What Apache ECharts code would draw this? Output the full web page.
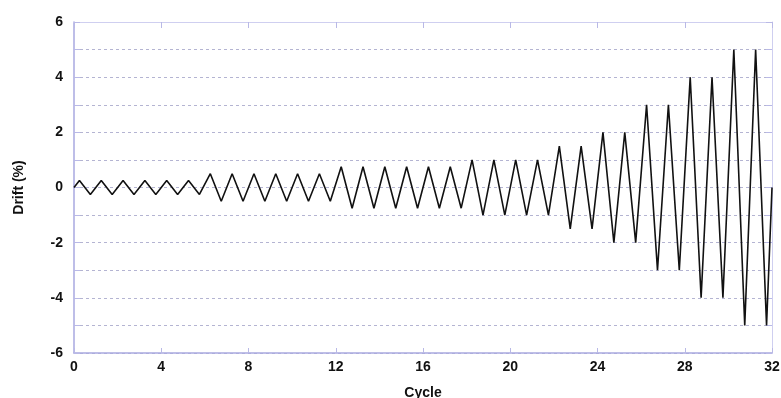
<!DOCTYPE html>
<html>
<head>
<meta charset="utf-8">
<script src="https://cdn.jsdelivr.net/npm/echarts@6/dist/echarts.min.js"></script>
<style>
  html, body { margin: 0; padding: 0; background: #fff; }
  #chart { width: 781px; height: 398px; }
</style>
</head>
<body>
<div id="chart"></div>
<script>
// loading protocol: cycle position of each peak / trough
var cycleX = [0,
  0.25, 0.75, 1.25, 1.75, 2.25, 2.75, 3.25, 3.75, 4.25, 4.75, 5.25, 5.75,
  6.25, 6.75, 7.25, 7.75, 8.25, 8.75, 9.25, 9.75, 10.25, 10.75, 11.25, 11.75,
  12.25, 12.75, 13.25, 13.75, 14.25, 14.75, 15.25, 15.75, 16.25, 16.75, 17.25, 17.75,
  18.25, 18.75, 19.25, 19.75, 20.25, 20.75, 21.25, 21.75,
  22.25, 22.75, 23.25, 23.75,
  24.25, 24.75, 25.25, 25.75,
  26.25, 26.75, 27.25, 27.75,
  28.25, 28.75, 29.25, 29.75,
  30.25, 30.75, 31.25, 31.75,
  32];
// drift (%) at those points
var drift = [0,
  0.25, -0.25, 0.25, -0.25, 0.25, -0.25, 0.25, -0.25, 0.25, -0.25, 0.25, -0.25,
  0.5, -0.5, 0.5, -0.5, 0.5, -0.5, 0.5, -0.5, 0.5, -0.5, 0.5, -0.5,
  0.75, -0.75, 0.75, -0.75, 0.75, -0.75, 0.75, -0.75, 0.75, -0.75, 0.75, -0.75,
  1, -1, 1, -1, 1, -1, 1, -1,
  1.5, -1.5, 1.5, -1.5,
  2, -2, 2, -2,
  3, -3, 3, -3,
  4, -4, 4, -4,
  5, -5, 5, -5,
  0];
var xTicks = [0, 4, 8, 12, 16, 20, 24, 28, 32];
var yTicks = [-6, -4, -2, 0, 2, 4, 6];

var points = cycleX.map(function (x, i) { return [x, drift[i]]; });

var chart = echarts.init(document.getElementById('chart'));
var axisColor = '#b9b9e6';
var labelFont = { fontFamily: 'Liberation Sans, Arial', fontWeight: 'bold', fontSize: 14, color: '#111' };

var option = {
  backgroundColor: '#fff',
  animation: false,
  grid: { left: 74, right: 9, top: 22, bottom: 45, show: false, containLabel: false, outerBoundsMode: 'none' },
  xAxis: [{
    type: 'value', position: 'bottom',
    min: xTicks[0], max: xTicks[xTicks.length - 1], interval: 4,
    name: 'Cycle', nameLocation: 'middle', nameGap: 33,
    nameTextStyle: labelFont,
    axisLine: { show: true, onZero: false, lineStyle: { color: '#a9a9e0', width: 1.5 } },
    axisTick: { show: true, inside: true, length: 5, lineStyle: { color: axisColor } },
    axisLabel: Object.assign({ margin: 7 }, labelFont),
    splitLine: { show: false }
  }, {
    type: 'value', position: 'top',
    min: 0, max: 32, interval: 4,
    axisLine: { show: true, onZero: false, lineStyle: { color: '#cfcff0', width: 1 } },
    axisTick: { show: true, inside: true, length: 6, lineStyle: { color: axisColor } },
    axisLabel: { show: false },
    splitLine: { show: false }
  }],
  yAxis: [{
    type: 'value', position: 'left',
    min: yTicks[0], max: yTicks[yTicks.length - 1], interval: 1,
    name: 'Drift (%)', nameLocation: 'middle', nameGap: 48, nameRotate: 90,
    nameTextStyle: labelFont,
    axisLine: { show: true, onZero: false, lineStyle: { color: '#a9a9e0', width: 1.5 } },
    axisTick: { show: true, inside: true, length: 6, lineStyle: { color: axisColor } },
    axisLabel: Object.assign({
      margin: 11,
      formatter: function (v) { return yTicks.indexOf(v) >= 0 ? String(v) : ''; }
    }, labelFont),
    splitLine: { show: true, lineStyle: { color: '#b4b4d2', type: [3, 3], width: 1 } }
  }, {
    type: 'value', position: 'right',
    min: -6, max: 6, interval: 1,
    axisLine: { show: true, onZero: false, lineStyle: { color: '#cfcff0', width: 1 } },
    axisTick: { show: true, inside: true, length: 6, lineStyle: { color: axisColor } },
    axisLabel: { show: false },
    splitLine: { show: false }
  }],
  series: [{
    type: 'line',
    data: points,
    showSymbol: false,
    symbol: 'none',
    lineStyle: { color: '#111', width: 1.6 },
    z: 5
  }]
};
chart.setOption(option);
</script>
</body>
</html>
